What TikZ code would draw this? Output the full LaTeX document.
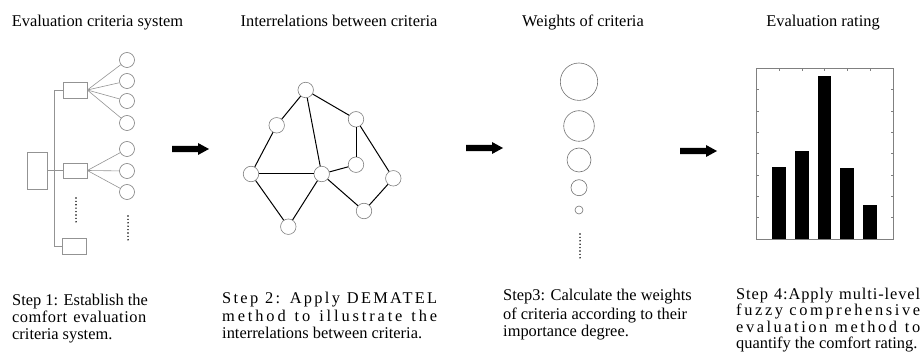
\documentclass[tikz,border=0pt]{standalone}
\usepackage{fontspec}
\setmainfont{Liberation Serif}
\newcommand\fatarrow[1]{\fill (#1) ++(0,-3.2) -- ++(26,0) -- ++(0,-2.8) -- ++(11,6) -- ++(-11,6) -- ++(0,-2.8) -- ++(-26,0) -- cycle;}
\newcommand\jline[3]{\makebox[#1pt][s]{\addfontfeature{LetterSpace=#2}#3}}
\begin{document}
\begin{tikzpicture}[x=1pt,y=-1pt,
  gl/.style={draw=gray!85, line width=0.6pt},
  pbox/.style={draw=gray!85, line width=0.6pt, minimum width=24pt, minimum height=16pt, inner sep=0pt},
  leaf/.style={circle, draw=gray, line width=0.6pt, minimum size=15pt, inner sep=0pt},
  gnode/.style={circle, draw=gray, fill=white, line width=0.6pt, minimum size=15.5pt, inner sep=0pt},
  gedge/.style={draw=black, line width=1pt},
  wc/.style={circle, draw=gray!90!black, line width=0.6pt, inner sep=0pt},
  dotline/.style={line width=1.6pt, line cap=round, dash pattern=on 0pt off 3.4pt},
  title/.style={font=\fontsize{16.4}{18}\selectfont, anchor=base, inner sep=0pt},
  capt/.style={font=\fontsize{16.4}{18}\selectfont, anchor=base west, inner sep=0pt}
]
\useasboundingbox (0,0) rectangle (924,358);

% titles
\node[title] (t1) at (97.5,26.7) {Evaluation criteria system};
\node[title] (t2) at (339,26.7) {Interrelations between criteria};
\node[title] (t3) at (583,26.7) {Weights of criteria};
\node[title] (t4) at (823,26.7) {Evaluation rating};

% ---------- panel 1
\node[pbox, minimum width=20pt, minimum height=37pt] (root) at (37,170.5) {};
\node[pbox] (r1) at (75,90) {};
\node[pbox, minimum height=15pt] (r2) at (75,170.5) {};
\node[pbox] (r3) at (74,246) {};
\coordinate (s1) at (54,90);
\coordinate (s3) at (54,246);
\draw[gl] (r1.west) -- (s1) -- (s3) -- (r3.west);
\draw[gl] (root.east) -- (root.east -| s1);
\draw[gl] (r2.west) -- (r2.west -| s1);
\foreach \i/\y in {1/60,2/81,3/101,4/123}{
  \node[leaf] (a\i) at (127,\y) {};
  \draw[gl] (r1.east) -- (a\i);
}
\foreach \i/\y in {1/149,2/171,3/192}{
  \node[leaf] (b\i) at (127,\y) {};
  \draw[gl] (r2.east) -- (b\i);
}
\coordinate (d1a) at (76,198); \coordinate (d1b) at (76,222);
\coordinate (d2a) at (128,216); \coordinate (d2b) at (128,240);
\draw[dotline] (d1a) -- (d1b);
\draw[dotline] (d2a) -- (d2b);

\coordinate (ar1) at (172,149);
\fatarrow{ar1}

% ---------- panel 2
\node[gnode] (A) at (305.7,90) {};
\node[gnode] (B) at (276.7,125.3) {};
\node[gnode] (C) at (356,119.3) {};
\node[gnode] (D) at (251,174) {};
\node[gnode] (E) at (321.7,174) {};
\node[gnode] (F) at (356,164.7) {};
\node[gnode] (G) at (393.3,178.3) {};
\node[gnode] (H) at (364,211) {};
\node[gnode] (I) at (288.3,226.7) {};
\foreach \u/\v in {A/B,A/E,A/C,B/D,D/E,D/I,E/I,E/F,E/H,C/F,C/G,G/H}
  \draw[gedge] (\u) -- (\v);

\coordinate (ar2) at (466,148);
\fatarrow{ar2}

% ---------- panel 3
\node[wc, minimum size=37.4pt] (w1) at (579,81.7) {};
\node[wc, minimum size=30.6pt] (w2) at (579,126) {};
\node[wc, minimum size=24pt] (w3) at (579,160) {};
\node[wc, minimum size=16pt] (w4) at (579,187.7) {};
\node[wc, minimum size=8pt] (w5) at (579,210) {};
\coordinate (d3a) at (580,234); \coordinate (d3b) at (580,258);
\draw[dotline] (d3a) -- (d3b);

\coordinate (ar3) at (680,151);
\fatarrow{ar3}

% ---------- panel 4
\fill (771.7,167.3) rectangle (785.7,239);
\fill (794.7,150.7) rectangle (808.7,239);
\fill (817.7,76) rectangle (831.3,239);
\fill (840.3,168) rectangle (854.3,239);
\fill (863,204.7) rectangle (877,239);
\draw[draw=gray, line width=0.8pt] (756,68.3) rectangle (893.3,239);
\foreach \y in {89.7,111,132.3,153.7,175,196.3,217.7}{
  \draw[gray, line width=0.4pt] (756,\y) -- (758.5,\y);
  \draw[gray, line width=0.4pt] (893.3,\y) -- (890.8,\y);
}
\foreach \x in {778.7,801.7,824.5,847.3,870}
  \draw[gray, line width=0.4pt] (\x,68.3) -- (\x,70.8);

% ---------- captions
\node[capt] (s1a) at (12,305.7) {Step 1: Establish the};
\node[capt] (s1b) at (12,322.7) {\jline{134}{3}{comfort evaluation}};
\node[capt] (s1c) at (12,339) {criteria system.};

\node[capt] (s2a) at (222,303.3) {\jline{215}{14}{Step 2: Apply DEMATEL}};
\node[capt] (s2b) at (222,321) {\jline{215}{17.5}{method to illustrate the}};
\node[capt] (s2c) at (222,338.3) {interrelations between criteria.};

\node[capt] (s3a) at (503,301) {Step3: Calculate the weights};
\node[capt] (s3b) at (503,319) {of criteria according to their};
\node[capt] (s3c) at (503,336.5) {importance degree.};

\node[capt] (s4a) at (736,299) {\jline{184}{5.5}{Step 4:Apply multi-level}};
\node[capt] (s4b) at (736,316) {\jline{184}{16}{fuzzy comprehensive}};
\node[capt] (s4c) at (736,332.5) {\jline{184}{15.5}{evaluation method to}};
\node[capt] (s4d) at (736,348.3) {quantify the comfort rating.};
\end{tikzpicture}
\end{document}
